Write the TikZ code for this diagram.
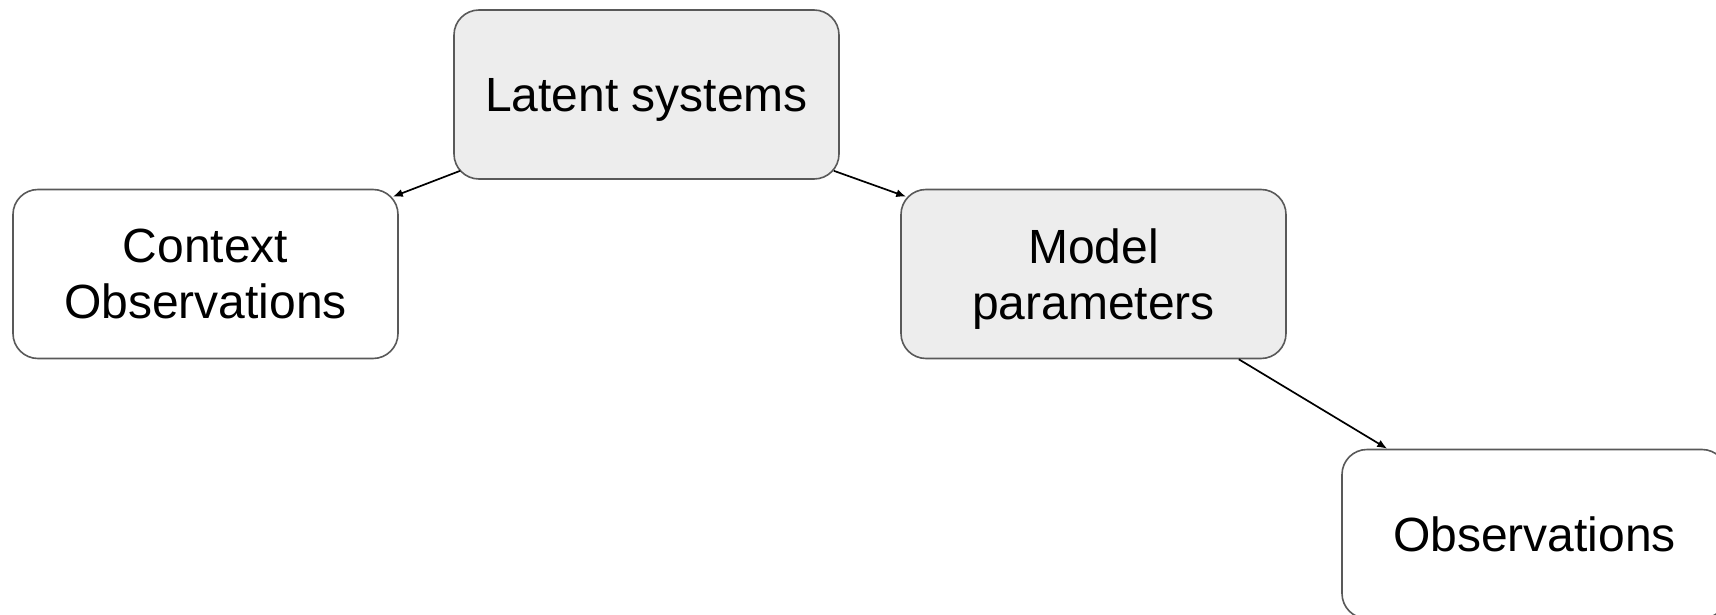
\documentclass[tikz,border=0pt]{standalone}
\usepackage{fontspec}
\setmainfont{Liberation Sans}
\usetikzlibrary{arrows.meta}

\begin{document}
\begin{tikzpicture}[x=1pt,y=-1pt,
    boite/.style={draw=black!65,line width=1.6pt,rounded corners=25pt,
      minimum width=385pt,minimum height=169pt,align=center,
      text depth=0pt,font=\fontsize{48}{56}\selectfont},
    grise/.style={boite,fill=black!7},
    blanche/.style={boite,fill=white},
    fleche/.style={-{Latex[length=10pt,width=8pt]},line width=1.7pt}]

    % Cadre
    \useasboundingbox (0,0) rectangle (1716,615);

    % ---- Boites ----
    \node[grise]   (lat) at (646.5,94.5) {Latent systems};
    \node[blanche] (ctx) at (205.5,274)  {Context\\Observations};
    \node[grise]   (mod) at (1093.5,274) {Model\\parameters};
    \node[blanche] (obs) at (1534.5,534) {Observations};

    % ---- Fleches (départ / arrivée sur les coins arrondis) ----
    \draw[fleche] ([shift={(7,-9)}]lat.south west) -- ([shift={(-6,8)}]ctx.north east);
    \draw[fleche] ([shift={(-6,-9)}]lat.south east) -- ([shift={(6,8)}]mod.north west);
    \draw[fleche] ([shift={(-48,0)}]mod.south east) -- ([shift={(46,0)}]obs.north west);

\end{tikzpicture}
\end{document}
